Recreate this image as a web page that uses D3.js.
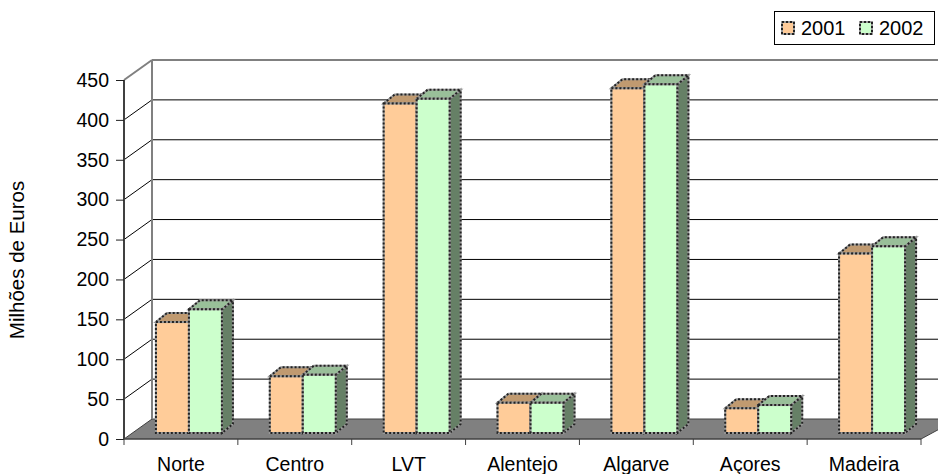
<!DOCTYPE html>
<html>
<head>
<meta charset="utf-8">
<script src="https://cdnjs.cloudflare.com/ajax/libs/d3/7.8.5/d3.min.js"></script>
<style>
  body { margin: 0; background: #fff; }
  text { font-family: "Liberation Sans", Arial, sans-serif; fill: #000; }
</style>
</head>
<body>
<svg id="chart" width="938" height="474"></svg>
<script>
const categories = ['Norte', 'Centro', 'LVT', 'Alentejo', 'Algarve', 'Açores', 'Madeira'];
const values2001 = [139, 71, 413, 38, 432, 31, 225];
const values2002 = [155, 73, 419, 38, 437, 35, 234];
const yearLabels = ['2001', '2002'];
const yTicks = [0, 50, 100, 150, 200, 250, 300, 350, 400, 450];

const w = 938, h = 474;
const svg = d3.select('#chart');

// front plane of the 3d box
const x0 = 124, x1 = 921, yBase = 439, yTop = 80;
// depth of the whole box, and of one bar
const depthX = 28, depthY = -20;
const barDX = 11, barDY = -9;
// bars stand a bit behind the front edge of the floor
const insetX = 8, insetY = -6;
const barW = 33;

const xScale = d3.scaleBand().domain(categories).range([x0, x1]);
const yScale = d3.scaleLinear().domain([0, 450]).range([yBase, yTop]);

// floor polygon
svg.append('polygon')
  .attr('points', [[x0, yBase], [x0 + depthX, yBase + depthY], [w + 20, yBase + depthY], [x1, yBase]].join(' '))
  .attr('fill', '#808080')
  .attr('stroke', '#404040');

// back wall grid lines + side wall diagonals
yTicks.slice(1).forEach((t, i) => {
  const last = i === yTicks.length - 2;
  svg.append('line')
    .attr('x1', x0 + depthX).attr('x2', w)
    .attr('y1', yScale(t) + depthY).attr('y2', yScale(t) + depthY)
    .attr('stroke', last ? '#808080' : '#000')
    .attr('stroke-width', last ? 2 : 1);
  svg.append('line')
    .attr('x1', x0).attr('x2', x0 + depthX)
    .attr('y1', yScale(t)).attr('y2', yScale(t) + depthY)
    .attr('stroke', last ? '#808080' : '#000')
    .attr('stroke-width', last ? 2 : 1);
});

// back wall left edge
svg.append('line')
  .attr('x1', x0 + depthX).attr('x2', x0 + depthX)
  .attr('y1', yScale(450) + depthY).attr('y2', yBase + depthY)
  .attr('stroke', '#808080')
  .attr('stroke-width', 2);

// AXES
const yAxis = d3.axisLeft(yScale).tickValues(yTicks).tickSize(8).tickPadding(7);
const yAxisGroup = svg.append('g')
  .attr('transform', `translate(${x0}, 0)`)
  .call(yAxis);
yAxisGroup.select('.domain').attr('stroke', '#404040').attr('stroke-width', 2).attr('d', `M0,${yTop}V${yBase}`);
yAxisGroup.selectAll('.tick line').attr('stroke', '#202020');
yAxisGroup.selectAll('text').attr('font-size', 19.5).style('font-family', '"Liberation Sans"');

const xAxis = d3.axisBottom(xScale).tickSize(0).tickPadding(18);
const xAxisGroup = svg.append('g')
  .attr('transform', `translate(0, ${yBase})`)
  .call(xAxis);
xAxisGroup.select('.domain').attr('stroke', '#404040').attr('d', `M${x0},0H${x1}`);
xAxisGroup.selectAll('text').attr('font-size', 19.5).style('font-family', '"Liberation Sans"');

// tick marks sit between the categories
d3.range(categories.length + 1).forEach((i) => {
  const tx = i < categories.length ? xScale(categories[i]) : x1;
  xAxisGroup.append('line')
    .attr('x1', tx).attr('x2', tx).attr('y1', 0).attr('y2', 6)
    .attr('stroke', '#404040');
});

svg.append('text')
  .attr('transform', 'translate(24, 260) rotate(-90)')
  .attr('text-anchor', 'middle')
  .attr('font-size', 20.5)
  .text('Milhões de Euros');

// dotted border: gray under, black dashes over
function outline(sel) {
  const node = sel.node();
  const copy = node.cloneNode(false);
  node.parentNode.appendChild(copy);
  sel.attr('stroke', '#999').attr('stroke-width', 2);
  d3.select(copy).attr('fill', 'none').attr('stroke', '#222')
    .attr('stroke-width', 2).attr('stroke-dasharray', '2 2');
}

function bar(x, value, front, top, side) {
  const yf = yScale(value) + insetY;
  const yb = yBase + insetY;
  const pts = (a) => a.map((p) => p.join(',')).join(' ');
  outline(svg.append('polygon')
    .attr('points', pts([[x + barW, yf], [x + barW + barDX, yf + barDY], [x + barW + barDX, yb + barDY], [x + barW, yb]]))
    .attr('fill', side));
  outline(svg.append('polygon')
    .attr('points', pts([[x, yf], [x + barDX, yf + barDY], [x + barW + barDX, yf + barDY], [x + barW, yf]]))
    .attr('fill', top));
  outline(svg.append('rect')
    .attr('x', x).attr('y', yf).attr('width', barW).attr('height', yb - yf)
    .attr('fill', front));
}

categories.forEach((c, i) => {
  const cx = xScale(c) + xScale.bandwidth() / 2 + insetX;
  bar(cx - barW, values2001[i], '#FFCC99', '#C09A70', '#806650');
  bar(cx, values2002[i], '#CCFFCC', '#99BF99', '#668066');
});

// legend
const legend = svg.append('g');
legend.append('rect')
  .attr('x', 774.5).attr('y', 11.5).attr('width', 160).attr('height', 33)
  .attr('fill', '#fff').attr('stroke', '#000');
[['#FFCC99', 782, 801], ['#CCFFCC', 860, 879]].forEach((d, i) => {
  outline(legend.append('rect')
    .attr('x', d[1]).attr('y', 22).attr('width', 12).attr('height', 12)
    .attr('fill', d[0]));
  legend.append('text')
    .attr('x', d[2]).attr('y', 35)
    .attr('font-size', 20)
    .text(yearLabels[i]);
});
</script>
</body>
</html>
